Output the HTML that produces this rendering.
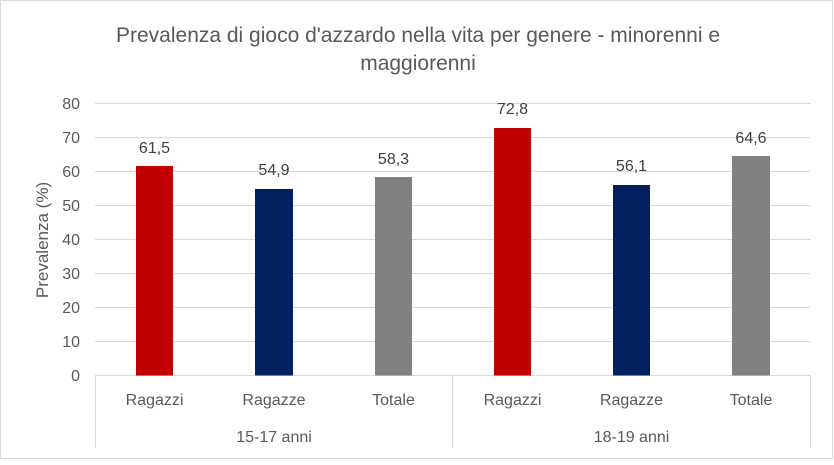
<!DOCTYPE html>
<html><head><meta charset="utf-8"><style>body{margin:0;background:#fff}</style></head><body>
<svg width="834" height="460" xmlns="http://www.w3.org/2000/svg" font-family="'Liberation Sans',sans-serif">
<rect x="0.5" y="0.5" width="832" height="458" fill="#fff" stroke="#d9d9d9"/>
<g fill="#595959" font-size="21" text-anchor="middle">
<text x="418" y="42">Prevalenza di gioco d'azzardo nella vita per genere - minorenni e</text>
<text x="418" y="70">maggiorenni</text>
</g>
<g stroke="#d9d9d9" stroke-width="1">
<line x1="95" x2="811" y1="103.5" y2="103.5"/><line x1="95" x2="811" y1="137.5" y2="137.5"/>
<line x1="95" x2="811" y1="171.5" y2="171.5"/><line x1="95" x2="811" y1="205.5" y2="205.5"/>
<line x1="95" x2="811" y1="239.5" y2="239.5"/><line x1="95" x2="811" y1="273.5" y2="273.5"/>
<line x1="95" x2="811" y1="307.5" y2="307.5"/><line x1="95" x2="811" y1="341.5" y2="341.5"/>
<line x1="95" x2="811" y1="375.5" y2="375.5"/>
<line x1="95.5" x2="95.5" y1="375" y2="448"/><line x1="452.5" x2="452.5" y1="375" y2="448"/><line x1="810.5" x2="810.5" y1="375" y2="448"/>
</g>
<g fill="#595959" font-size="16" text-anchor="end">
<text x="80" y="109">80</text><text x="80" y="143">70</text><text x="80" y="177">60</text><text x="80" y="211">50</text>
<text x="80" y="245">40</text><text x="80" y="279">30</text><text x="80" y="313">20</text><text x="80" y="347">10</text><text x="80" y="381">0</text>
</g>
<text transform="translate(48,240) rotate(-90)" fill="#595959" font-size="17" text-anchor="middle">Prevalenza (%)</text>
<rect x="136" y="166" width="37" height="209.5" fill="#c00000"/>
<rect x="255" y="189" width="38" height="186.5" fill="#002060"/>
<rect x="375" y="177" width="37" height="198.5" fill="#808080"/>
<rect x="494" y="128" width="37" height="247.5" fill="#c00000"/>
<rect x="613" y="185" width="37" height="190.5" fill="#002060"/>
<rect x="732" y="156" width="38" height="219.5" fill="#808080"/>
<g fill="#404040" font-size="16" text-anchor="middle">
<text x="154.5" y="153">61,5</text><text x="274" y="175">54,9</text><text x="393.5" y="164">58,3</text>
<text x="512.5" y="114">72,8</text><text x="631.5" y="171">56,1</text><text x="751" y="143">64,6</text>
</g>
<g fill="#595959" font-size="16" text-anchor="middle">
<text x="154.5" y="405">Ragazzi</text><text x="274" y="405">Ragazze</text><text x="393.5" y="405">Totale</text>
<text x="512.5" y="405">Ragazzi</text><text x="631.5" y="405">Ragazze</text><text x="751" y="405">Totale</text>
<text x="274" y="442">15-17 anni</text><text x="631.5" y="442">18-19 anni</text>
</g>
</svg>
</body></html>
